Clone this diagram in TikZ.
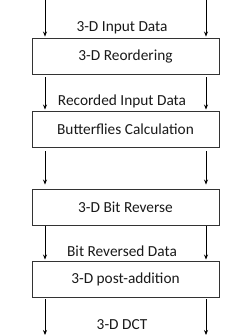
\documentclass[tikz,border=0pt]{standalone}
\usepackage{fontspec}
\setmainfont{Carlito}
\usetikzlibrary{arrows.meta}
\begin{document}
\begin{tikzpicture}[x=1bp,y=-1bp,
  stage/.style={draw=black!80,line width=0.9bp,minimum width=187bp,minimum height=36bp,inner sep=0pt,font=\fontsize{15.4}{18}\selectfont,text=black!90},
  lbl/.style={font=\fontsize{15.4}{18}\selectfont,text=black!90,inner sep=0pt},
  flow/.style={line width=0.8bp,-{Stealth[length=5bp,width=4bp]}}]
\useasboundingbox (0,0) rectangle (246,336);
\node[stage] (b1) at (125.5,56) {3-D Reordering};
\node[stage] (b2) at (125.5,129) {Butterflies Calculation};
\node[stage] (b3) at (125.5,207) {3-D Bit Reverse};
\node[stage] (b4) at (125.5,279) {3-D post-addition};
\node[lbl] (l1) at (122,28) {3-D Input Data};
\node[lbl] (l2) at (122,101) {Recorded Input Data};
\node[lbl] (l3) at (122,251) {Bit Reversed Data};
\node[lbl] (l4) at (122,325) {3-D DCT};
\coordinate (tl) at (45,0);
\coordinate (tr) at (206,0);
\coordinate (bl) at (45,335);
\coordinate (br) at (206,335);
\draw[flow,shorten >=1bp] (tl) -- (tl |- b1.north);
\draw[flow,shorten >=1bp] (tr) -- (tr |- b1.north);
\draw[flow,shorten <=3bp,shorten >=1bp] (tl |- b1.south) -- (tl |- b2.north);
\draw[flow,shorten <=3bp,shorten >=1bp] (tr |- b1.south) -- (tr |- b2.north);
\draw[flow,shorten <=4bp,shorten >=4bp] (tl |- b2.south) -- (tl |- b3.north);
\draw[flow,shorten <=4bp,shorten >=4bp] (tr |- b2.south) -- (tr |- b3.north);
\draw[flow,shorten <=1bp,shorten >=1bp] (tl |- b3.south) -- (tl |- b4.north);
\draw[flow,shorten <=1bp,shorten >=1bp] (tr |- b3.south) -- (tr |- b4.north);
\draw[flow,shorten <=2bp] (tl |- b4.south) -- (bl);
\draw[flow,shorten <=2bp] (tr |- b4.south) -- (br);
\end{tikzpicture}
\end{document}
